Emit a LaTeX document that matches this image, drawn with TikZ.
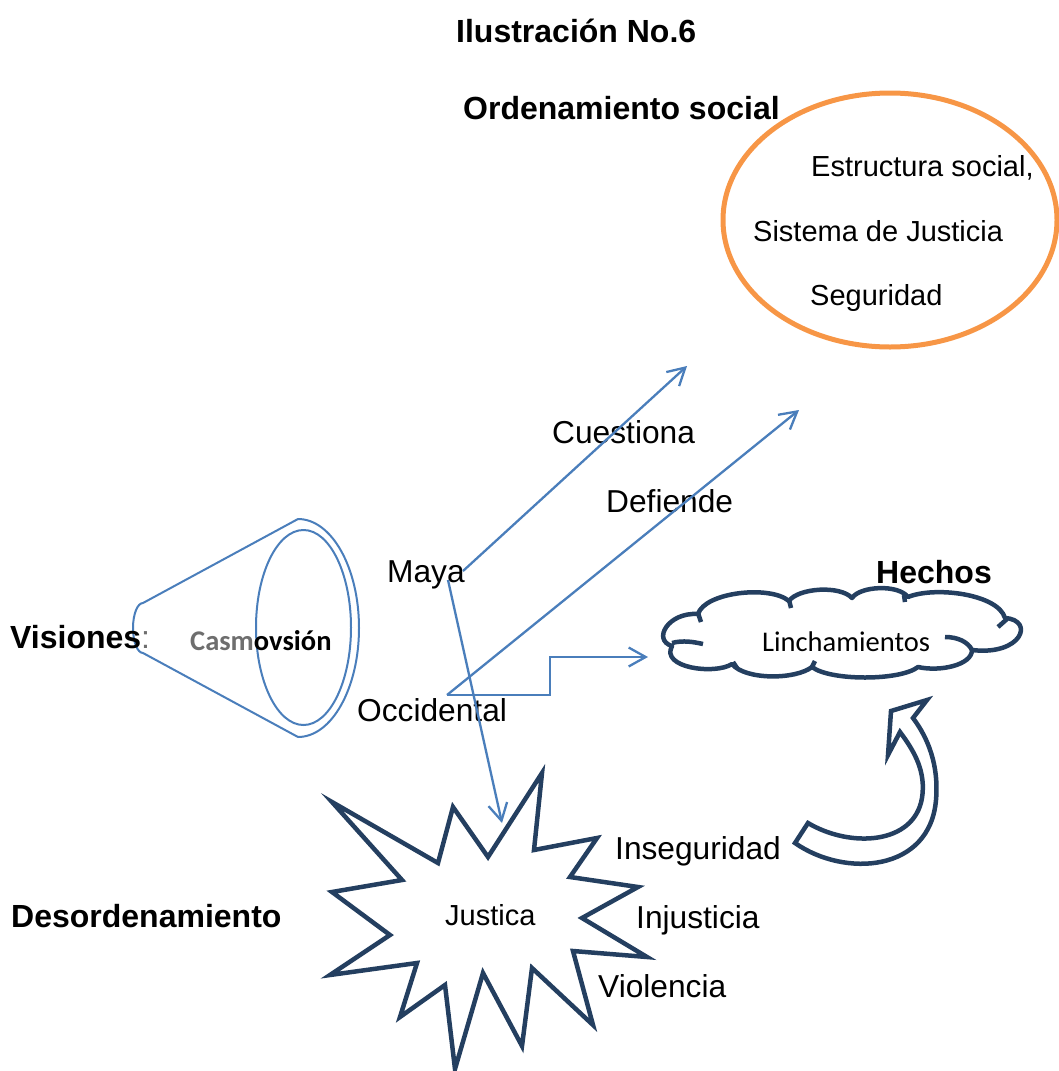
\documentclass[tikz,border=0pt]{standalone}
\usepackage{fontspec}
\setmainfont{Liberation Sans}
\newfontfamily\calibri{Carlito}
\usetikzlibrary{arrows.meta}

\definecolor{linkblue}{RGB}{74,126,187}
\definecolor{navy}{RGB}{36,63,96}
\definecolor{orangeline}{RGB}{247,150,70}
\definecolor{softgray}{RGB}{110,110,110}

\tikzset{
  txt/.style={anchor=base west, inner sep=0pt, font=\fontsize{29}{34}\selectfont},
  bigtxt/.style={anchor=base west, inner sep=0pt, font=\fontsize{31.7}{37}\selectfont},
  boldtxt/.style={anchor=base west, inner sep=0pt, font=\fontsize{32}{38}\selectfont\bfseries},
  calitxt/.style={anchor=base west, inner sep=0pt, font=\fontsize{28.5}{34}\selectfont\calibri},
  link/.style={draw=linkblue, line width=2.3pt},
  linkarrow/.style={link, -{Straight Barb[length=17pt,width=19pt,line width=2.3pt]}},
  navyline/.style={draw=navy, line width=4.5pt, line join=miter},
  curl/.style={draw=navy, line width=4.5pt},
}

\begin{document}
\begin{tikzpicture}[x=1pt,y=-1pt]
\useasboundingbox (0,0) rectangle (1059,1071);

% headings
\node[boldtxt] (title) at (456,42) {Ilustración No.6};
\node[boldtxt] (orden) at (463,119) {Ordenamiento social};

% social order ellipse
\draw[draw=orangeline, line width=5pt] (890,220) ellipse [x radius=167, y radius=127];
\node[txt] (estr) at (811,176) {Estructura social,};
\node[txt] (sist) at (753,241) {Sistema de Justicia};
\node[txt] (segu) at (810,305) {Seguridad};

% worldview cone
\draw[link, line width=2pt, line join=round]
  (143,603) -- (298,519)
  arc [start angle=-90, end angle=90, x radius=61, y radius=109]
  -- (143,653)
  arc [start angle=90, end angle=270, x radius=10, y radius=25] -- cycle;
\draw[link, line width=2pt] (303.5,627.5) ellipse [x radius=47.5, y radius=97.5];

\node[boldtxt] (vis) at (10,648) {Visiones{\mdseries\color{softgray}:}};
\node[calitxt, font=\fontsize{28.5}{34}\selectfont\calibri\bfseries] (cosmo) at (190,650)
  {{\color{softgray}Casm}ovsión};

\node[bigtxt] (maya) at (387,582) {Maya};
\node[bigtxt] (occ) at (357,721) {Occidental};
\node[bigtxt] (cuest) at (552,443) {Cuestiona};
\node[bigtxt] (defi) at (606,512) {Defiende};
\node[boldtxt] (hechos) at (876,583) {Hechos};
\node[boldtxt] (desor) at (11,927) {Desordenamiento};

% connector end points
\coordinate (mayaA) at (463,571);
\coordinate (mayaB) at (448,580);
\coordinate (occA) at (447,695);
\coordinate (stepA) at (550,695);
\coordinate (stepB) at (550,657);
\coordinate (cuestTip) at (687,366);
\coordinate (defiTip) at (799,410);
\coordinate (linchTip) at (648,657);
\coordinate (justTip) at (502,823);

% lynching cloud: outline of puffs
\draw[navyline, line join=round, fill=white]
  (672,646) .. controls (652,640) and (668,612) .. (698,614)
  .. controls (705,592) and (770,585) .. (789,601)
  .. controls (798,588) and (840,585) .. (852,598)
  .. controls (860,586) and (898,584) .. (908,597)
  .. controls (935,586) and (998,594) .. (1005,618)
  .. controls (1035,620) and (1022,656) .. (972,650)
  .. controls (972,665) and (940,672) .. (918,667)
  .. controls (900,681) and (830,681) .. (812,667)
  .. controls (795,680) and (745,680) .. (732,664)
  .. controls (715,675) and (660,668) .. cycle;
% inner curls of the cloud
\draw[curl] (672,643) .. controls (683,640) and (694,642) .. (703,644);
\draw[curl] (698,613) -- (701,622);
\draw[curl] (789,600) -- (791,608);
\draw[curl] (904,595) -- (905,602);
\draw[curl] (1007,619) -- (998,627);
\draw[curl] (945,637) .. controls (958,637) and (968,642) .. (972,650);
\draw[curl] (812,667) -- (815,661);
\draw[curl] (733,662) -- (737,668);
\node[calitxt] (linch) at (762,651) {Linchamientos};

% connectors
\draw[linkarrow] (mayaA) -- (cuestTip);
\draw[linkarrow] (occA) -- (defiTip);
\draw[linkarrow] (occA) -- (stepA) -- (stepB) -- (linchTip);
\draw[linkarrow] (mayaB) -- (justTip);

% explosion
\draw[navyline, fill=white]
  (542,773) -- (534,850) -- (597,838) -- (570,877) -- (638,887) -- (582,918)
  -- (647,957) -- (573,951) -- (593,1025) -- (532,968) -- (522,1046) -- (483,973)
  -- (455,1069) -- (445,985) -- (400,1017) -- (417,963) -- (330,975) -- (390,935)
  -- (332,892) -- (402,880) -- (332,802) -- (438,863) -- (453,807) -- (488,857) -- cycle;
\node[txt] (just) at (445,925) {Justica};

\node[bigtxt] (inseg) at (615,859) {Inseguridad};
\node[bigtxt] (injus) at (636,928) {Injusticia};
\node[bigtxt] (viol) at (598,997) {Violencia};

% curved block arrow
\draw[navyline, fill=white]
  (795,843) .. controls (845,878) and (930,872) .. (936,800)
  .. controls (939,765) and (928,738) .. (913,718)
  -- (927,700) -- (891,711) -- (888,755) -- (900,732)
  .. controls (915,752) and (926,772) .. (922,798)
  .. controls (914,845) and (850,848) .. (808,823) -- cycle;
\end{tikzpicture}
\end{document}
